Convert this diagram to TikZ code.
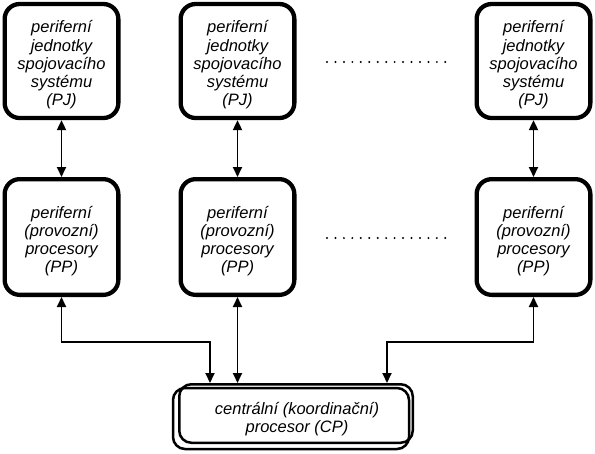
\documentclass[tikz,border=0pt]{standalone}
\usepackage{fontspec}
\setmainfont{Liberation Sans}
\usetikzlibrary{arrows.meta}
\begin{document}
\begin{tikzpicture}[x=1pt,y=-1pt,
  unit/.style={draw, line width=4.3pt, rounded corners=15pt, minimum width=113.7pt,
    minimum height=114pt, inner sep=0pt},
  txt/.style={align=center, inner sep=0pt, yshift=-4pt,
    font=\fontsize{16.5}{18.2}\selectfont\itshape},
  link/.style={line width=1.9pt,
    {Triangle[length=10pt,width=9pt]}-{Triangle[length=10pt,width=9pt]}},
  cpbox/.style={draw, line width=2.5pt, rounded corners=12pt, minimum width=233.5pt,
    minimum height=58.5pt, inner sep=0pt},
  cpline/.style={line width=2.5pt, rounded corners=12pt},
  cptxt/.style={align=center, inner sep=0pt, font=\fontsize{16.5}{18.2}\selectfont\itshape},
  dot/.style={fill=black}]
\useasboundingbox (0,0) rectangle (595,453);

% top row
\node[unit, label={[txt]center:{periferní\\jednotky\\spojovacího\\systému\\(PJ)}}] (pj1) at (61.5,61) {};
\node[unit, label={[txt]center:{periferní\\jednotky\\spojovacího\\systému\\(PJ)}}] (pj2) at (237.5,61) {};
\node[unit, label={[txt]center:{periferní\\jednotky\\spojovacího\\systému\\(PJ)}}] (pj3) at (533.5,61) {};

% second row
\node[unit, minimum height=115.7pt, label={[txt]center:{periferní\\(provozní)\\procesory\\(PP)}}] (pp1) at (61.5,237) {};
\node[unit, minimum height=115.7pt, label={[txt]center:{periferní\\(provozní)\\procesory\\(PP)}}] (pp2) at (237.5,237) {};
\node[unit, minimum height=115.7pt, label={[txt]center:{periferní\\(provozní)\\procesory\\(PP)}}] (pp3) at (533.5,237) {};

% dots
\foreach \i in {0,...,14} {
  \fill[dot] (327+\i*8.45,62) circle (1.1pt);
  \fill[dot] (327+\i*8.45,238) circle (1.1pt);
}

% central processor
\node[cpbox] (cp) at (296,413.5) {};
\draw[cpline] ([shift={(-5,5)}]cp.north west) rectangle ([shift={(-5,5)}]cp.south east);
\node[cptxt] (cpt) at (297,419.5) {centrální (koordinační)\\procesor (CP)};

% connectors
\draw[link] (pj1.south) -- (pp1.north);
\draw[link] (pj2.south) -- (pp2.north);
\draw[link] (pj3.south) -- (pp3.north);

\draw[link] (pp1.south) |- (210,342) -- (210,342 |- cp.north);
\draw[link] (pp2.south) -- (pp2.south |- cp.north);
\draw[link] (pp3.south) |- (387,342) -- (387,342 |- cp.north);
\end{tikzpicture}
\end{document}
